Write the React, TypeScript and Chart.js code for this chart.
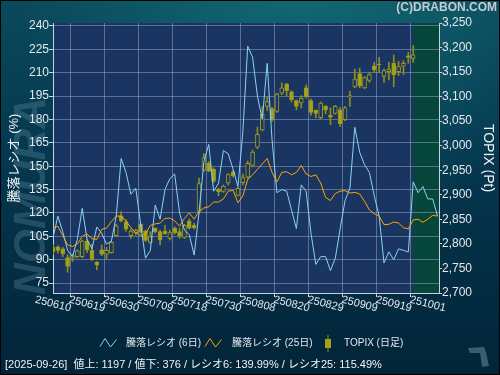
import { useEffect, useRef } from 'react';
import { Chart, registerables } from 'chart.js';

Chart.register(...registerables);

// ---------- data ----------
const DATES = [
  '2025-06-10','2025-06-11','2025-06-12','2025-06-13','2025-06-16','2025-06-17','2025-06-18','2025-06-19','2025-06-20','2025-06-23',
  '2025-06-24','2025-06-25','2025-06-26','2025-06-27','2025-06-30','2025-07-01','2025-07-02','2025-07-03','2025-07-04','2025-07-07',
  '2025-07-08','2025-07-09','2025-07-10','2025-07-11','2025-07-14','2025-07-15','2025-07-16','2025-07-17','2025-07-18','2025-07-22',
  '2025-07-23','2025-07-24','2025-07-25','2025-07-28','2025-07-29','2025-07-30','2025-07-31','2025-08-01','2025-08-04','2025-08-05',
  '2025-08-06','2025-08-07','2025-08-08','2025-08-12','2025-08-13','2025-08-14','2025-08-15','2025-08-18','2025-08-19','2025-08-20',
  '2025-08-21','2025-08-22','2025-08-25','2025-08-26','2025-08-27','2025-08-28','2025-08-29','2025-09-01','2025-09-02','2025-09-03',
  '2025-09-04','2025-09-05','2025-09-08','2025-09-09','2025-09-10','2025-09-11','2025-09-12','2025-09-16','2025-09-17','2025-09-18',
  '2025-09-19','2025-09-22','2025-09-24','2025-09-25','2025-09-26','2025-09-29','2025-09-30','2025-10-01','2025-10-02','2025-10-03',
];

const RATIO6 = [
  104, 118, 108, 96, 92, 103, 123, 103, 97, 111,
  107, 100, 102, 118, 155, 146, 132, 136, 113, 91,
  96, 125, 116, 135, 142, 145, 120, 109, 106, 93,
  120, 153, 164, 134, 139, 160, 158, 148, 137, 172,
  227, 220, 195, 180, 216, 167, 133, 135, 134, 122,
  110, 138, 134, 107, 87, 92, 92, 83, 91, 110,
  128, 136, 175, 159, 151, 146, 131, 118, 88, 95,
  90, 97, 96, 95, 139.99, 133, 137, 129, 129, 118,
];

const RATIO25 = [
  110.3, 111.5, 105.5, 99.5, 98.5, 100, 105, 106.5, 103.5, 103,
  109.5, 110.3, 114.5, 118, 118, 115, 110.5, 107.5, 105.5, 106.5,
  112, 113, 113.5, 116.5, 116.7, 115, 111.5, 116.5, 120, 116,
  121, 123.2, 124, 127, 127, 129, 134, 134.5, 126.5, 131,
  141.5, 144.5, 148, 151.5, 155, 146, 140, 146, 146.5, 144.5,
  146, 150.5, 145, 143.4, 144.5, 139.2, 130, 128, 132.5, 134,
  134.3, 132.8, 133.2, 132.2, 127.5, 122, 119.5, 118, 112.5, 112.7,
  114.2, 113.5, 110.5, 109.8, 115.49, 116, 114, 116, 118.5, 118,
];

const T_OPEN = [
  2793, 2794, 2790, 2772, 2771, 2774, 2774, 2806, 2787, 2763,
  2788, 2779, 2782, 2817, 2857, 2845, 2817, 2823, 2840, 2826,
  2803, 2832, 2825, 2826, 2811, 2832, 2825, 2813, 2847, 2838,
  2866, 2950, 2964, 2952, 2911, 2907, 2924, 2947, 2899, 2925,
  2936, 2960, 2997, 3032, 3080, 3075, 3070, 3107, 3126, 3110,
  3092, 3087, 3118, 3092, 3072, 3057, 3080, 3062, 3066, 3073,
  3053, 3099, 3120, 3147, 3118, 3133, 3163, 3166, 3141, 3151,
  3168, 3151, 3162, 3183, 3178,
];
const T_HIGH = [
  2799, 2796, 2793, 2778, 2779, 2788, 2808, 2810, 2799, 2764,
  2798, 2793, 2805, 2840, 2866, 2849, 2830, 2830, 2842, 2828,
  2825, 2833, 2828, 2838, 2828, 2835, 2832, 2840, 2851, 2842,
  2934, 2984, 2968, 2955, 2913, 2920, 2943, 2950, 2916, 2942,
  2969, 2991, 3038, 3080, 3099, 3078, 3107, 3128, 3127, 3112,
  3093, 3102, 3124, 3095, 3073, 3089, 3082, 3077, 3082, 3078,
  3080, 3111, 3156, 3158, 3141, 3149, 3170, 3180, 3156, 3170,
  3185, 3172, 3173, 3190, 3204,
];
const T_LOW = [
  2778, 2781, 2774, 2742, 2764, 2772, 2772, 2782, 2766, 2747,
  2776, 2768, 2781, 2815, 2845, 2826, 2811, 2818, 2822, 2805,
  2801, 2822, 2798, 2820, 2808, 2820, 2811, 2811, 2830, 2830,
  2862, 2948, 2947, 2925, 2898, 2905, 2920, 2936, 2897, 2920,
  2933, 2957, 2994, 3030, 3072, 3050, 3068, 3104, 3102, 3089,
  3073, 3077, 3097, 3062, 3057, 3055, 3065, 3043, 3064, 3039,
  3051, 3080, 3118, 3118, 3116, 3129, 3149, 3149, 3129, 3134,
  3120, 3143, 3145, 3168, 3170,
];
const T_CLOSE = [
  2784, 2786.5, 2780, 2754, 2776, 2786, 2806, 2788, 2768, 2757,
  2779, 2787, 2803, 2837, 2847, 2830, 2826, 2828, 2824, 2807,
  2815, 2825, 2808, 2821, 2823, 2823, 2817, 2838, 2832, 2833,
  2923, 2976, 2948, 2928, 2906, 2918, 2941, 2939, 2913, 2935,
  2964, 2987, 3023, 3064, 3090, 3053, 3105, 3118, 3112, 3094,
  3080, 3097, 3100, 3068, 3066, 3087, 3073, 3058, 3080, 3045,
  3077, 3102, 3136, 3122, 3139, 3145, 3155, 3165, 3153, 3156,
  3145, 3161, 3168, 3180, 3185,
];

const LEFT_TICKS = [75, 90, 105, 120, 135, 150, 165, 180, 195, 210, 225, 240];
const X_TICK_STEP = 7;
const SHADE_FROM_DATE = '2025-09-26';
const LEGEND_LABELS = ['騰落レシオ (6日)', '騰落レシオ (25日)', 'TOPIX (日足)'];
const LEFT_TITLE = '騰落レシオ (%)';
const RIGHT_TITLE = 'TOPIX (Pt)';
const COPYRIGHT = '(C)DRABON.COM';
const WATERMARK = 'NOMURA';
const FOOTER = '[2025-09-26]  値上: 1197 / 値下: 376 / レシオ6: 139.99% / レシオ25: 115.49%';

// ---------- styles ----------
const FONT = '"Liberation Sans", "Noto Sans CJK JP", sans-serif';
const CYAN = '#8ad2f2';
const ORANGE = '#ffa500';
const CANDLE_FILL = '#a3a31c';
const CANDLE_BORDER = '#9a9a1a';
const CANDLE_WICK = '#8f8f18';
const PLOT_BG = '#1b3562';
const SHADE_BG = '#07473b';
const GRID = 'rgba(170,185,210,0.45)';
const AXIS = '#c9d2dc';
const TEXT = '#e4e8ec';

const X_TICKS = DATES.map((_, i) => i).filter((i) => i % X_TICK_STEP === 0);
const xLabel = (d: string) => d.slice(2, 4) + d.slice(5, 7) + d.slice(8, 10);

const decor = {
  id: 'decor',
  beforeDraw(chart: any) {
    const { ctx, chartArea: a, width: W, height: H } = chart;
    ctx.save();
    const g = ctx.createLinearGradient(0, 0, 0, H);
    g.addColorStop(0, '#0a4a5c');
    g.addColorStop(0.4, '#053850');
    g.addColorStop(1, '#022438');
    ctx.fillStyle = g;
    ctx.fillRect(0, 0, W, H);
    const r = ctx.createRadialGradient(300, -40, 10, 300, -40, 280);
    r.addColorStop(0, 'rgba(20,110,120,0.85)');
    r.addColorStop(1, 'rgba(20,110,120,0)');
    ctx.fillStyle = r;
    ctx.fillRect(0, 0, W, H);

    // watermark
    ctx.save();
    ctx.translate(33, 196);
    ctx.rotate(-Math.PI / 2);
    ctx.font = `italic bold 44px ${FONT}`;
    ctx.textAlign = 'center';
    ctx.textBaseline = 'middle';
    ctx.fillStyle = 'rgba(110,150,165,0.3)';
    ctx.fillText(WATERMARK, 0, 0);
    ctx.restore();

    ctx.fillStyle = PLOT_BG;
    ctx.fillRect(a.left, a.top, a.right - a.left, a.bottom - a.top);
    const xs = chart.scales.x;
    const gx = xs.getPixelForValue(DATES.indexOf(SHADE_FROM_DATE));
    ctx.fillStyle = SHADE_BG;
    ctx.fillRect(gx, a.top, a.right - gx, a.bottom - a.top);
    ctx.restore();
  },
  afterDraw(chart: any) {
    const { ctx, chartArea: a, width: W, height: H } = chart;
    const xs = chart.scales.x;
    ctx.save();
    // x labels (rotated clockwise)
    ctx.font = `11px ${FONT}`;
    ctx.fillStyle = TEXT;
    ctx.textAlign = 'center';
    ctx.textBaseline = 'middle';
    X_TICKS.forEach((i) => {
      const px = xs.getPixelForValue(i);
      ctx.save();
      ctx.translate(px, a.bottom + 11);
      ctx.rotate((14 * Math.PI) / 180);
      ctx.fillText(xLabel(DATES[i]), 0, 0);
      ctx.restore();
    });

    // legend
    const ly = 343;
    ctx.lineWidth = 1;
    const zig = (x0: number, color: string) => {
      ctx.strokeStyle = color;
      ctx.beginPath();
      ctx.moveTo(x0, ly + 3.5);
      ctx.lineTo(x0 + 5, ly - 4.5);
      ctx.lineTo(x0 + 10.5, ly + 4);
      ctx.lineTo(x0 + 16.5, ly - 3.5);
      ctx.stroke();
    };
    zig(100, CYAN);
    zig(205, ORANGE);
    ctx.font = `10px ${FONT}`;
    ctx.fillStyle = TEXT;
    ctx.textAlign = 'left';
    ctx.textBaseline = 'middle';
    ctx.fillText(LEGEND_LABELS[0], 126, ly);
    ctx.fillText(LEGEND_LABELS[1], 232, ly);
    ctx.fillStyle = CANDLE_WICK;
    ctx.fillRect(327.5, ly - 8, 1, 17);
    ctx.fillStyle = CANDLE_FILL;
    ctx.fillRect(325, ly - 4, 6, 9);
    ctx.fillStyle = TEXT;
    ctx.fillText(LEGEND_LABELS[2], 344, ly);

    // footer
    ctx.font = `11px ${FONT}`;
    ctx.fillStyle = '#f0f2f4';
    ctx.fillText(FOOTER, 5, 365);

    // copyright
    ctx.font = `bold 12px ${FONT}`;
    ctx.fillStyle = '#c4ccd4';
    ctx.textAlign = 'right';
    ctx.fillText(COPYRIGHT, 497, 8);

    // small corner mark
    ctx.fillStyle = '#3a5e6f';
    ctx.beginPath();
    ctx.moveTo(468, 348);
    ctx.lineTo(484, 347);
    ctx.lineTo(486, 352);
    ctx.lineTo(489, 366);
    ctx.lineTo(482, 367);
    ctx.lineTo(480, 353);
    ctx.lineTo(470, 353);
    ctx.closePath();
    ctx.fill();

    // outer border
    ctx.strokeStyle = '#000';
    ctx.lineWidth = 1;
    ctx.strokeRect(0.5, 0.5, W - 1, H - 1);
    ctx.restore();
  },
};

export default function App() {
  const ref = useRef<HTMLCanvasElement | null>(null);

  useEffect(() => {
    if (!ref.current) return;
    const chart = new Chart(ref.current, {
      type: 'line',
      data: {
        datasets: [
          {
            type: 'line',
            label: LEGEND_LABELS[0],
            data: RATIO6.map((v, i) => ({ x: i, y: v })),
            borderColor: CYAN,
            borderWidth: 1,
            pointRadius: 0,
            tension: 0,
            yAxisID: 'y',
            order: 1,
          },
          {
            type: 'line',
            label: LEGEND_LABELS[1],
            data: RATIO25.map((v, i) => ({ x: i, y: v })),
            borderColor: ORANGE,
            borderWidth: 1,
            pointRadius: 0,
            tension: 0,
            yAxisID: 'y',
            order: 0,
          },
          {
            type: 'bar',
            label: 'wick',
            data: T_LOW.map((l, i) => ({ x: i, y: [l, T_HIGH[i]] })),
            backgroundColor: CANDLE_WICK,
            barThickness: 1,
            grouped: false,
            yAxisID: 'y2',
            order: 3,
          } as any,
          {
            type: 'bar',
            label: LEGEND_LABELS[2],
            data: T_OPEN.map((o, i) => ({ x: i, y: [o, T_CLOSE[i]] })),
            backgroundColor: T_OPEN.map((o, i) => (T_CLOSE[i] >= o ? PLOT_BG : CANDLE_FILL)),
            borderColor: CANDLE_BORDER,
            borderWidth: 1,
            borderSkipped: false,
            barThickness: 4,
            grouped: false,
            yAxisID: 'y2',
            order: 2,
          } as any,
        ],
      },
      options: {
        responsive: false,
        animation: false,
        events: [],
        layout: { padding: { top: 23, left: 0, right: 0, bottom: 0 } },
        plugins: { legend: { display: false }, tooltip: { enabled: false } },
        scales: {
          x: {
            type: 'linear',
            min: 0,
            max: 79.3,
            offset: false,
            afterBuildTicks: (s: any) => {
              s.ticks = X_TICKS.map((v) => ({ value: v }));
            },
            afterFit: (s: any) => {
              s.height = 82;
            },
            ticks: { display: false },
            grid: { color: GRID, tickColor: AXIS, tickLength: 4, drawTicks: true },
            border: { color: AXIS },
          },
          y: {
            type: 'linear',
            position: 'left',
            min: 68.65,
            max: 241.9,
            afterBuildTicks: (s: any) => {
              s.ticks = LEFT_TICKS.map((v) => ({ value: v }));
            },
            afterFit: (s: any) => {
              s.width = 53;
            },
            ticks: {
              color: TEXT,
              font: { family: FONT, size: 12 },
              padding: 0,
              callback: (v: any) => String(v),
            },
            grid: { color: GRID, tickColor: AXIS, tickLength: 4 },
            border: { color: AXIS },
            title: {
              display: true,
              text: LEFT_TITLE,
              color: '#f0f2f4',
              font: { family: FONT, size: 13 },
              padding: { top: 7, bottom: 0 },
            },
          },
          y2: {
            type: 'linear',
            position: 'right',
            min: 2700,
            max: 3250,
            afterFit: (s: any) => {
              s.width = 61;
            },
            ticks: {
              stepSize: 50,
              color: TEXT,
              font: { family: FONT, size: 12 },
              padding: 0,
              callback: (v: any) => Number(v).toLocaleString('en-US'),
            },
            grid: { drawOnChartArea: false, tickColor: AXIS, tickLength: 3 },
            border: { color: AXIS },
            title: {
              display: true,
              text: RIGHT_TITLE,
              color: '#f0f2f4',
              font: { family: FONT, size: 14 },
              padding: { top: 4, bottom: 0 },
            },
          },
        },
      } as any,
      plugins: [decor],
    });
    return () => chart.destroy();
  }, []);

  return (
    <canvas
      ref={ref}
      width={500}
      height={375}
      style={{ position: 'fixed', left: 0, top: 0, width: 500, height: 375, display: 'block' }}
    />
  );
}
